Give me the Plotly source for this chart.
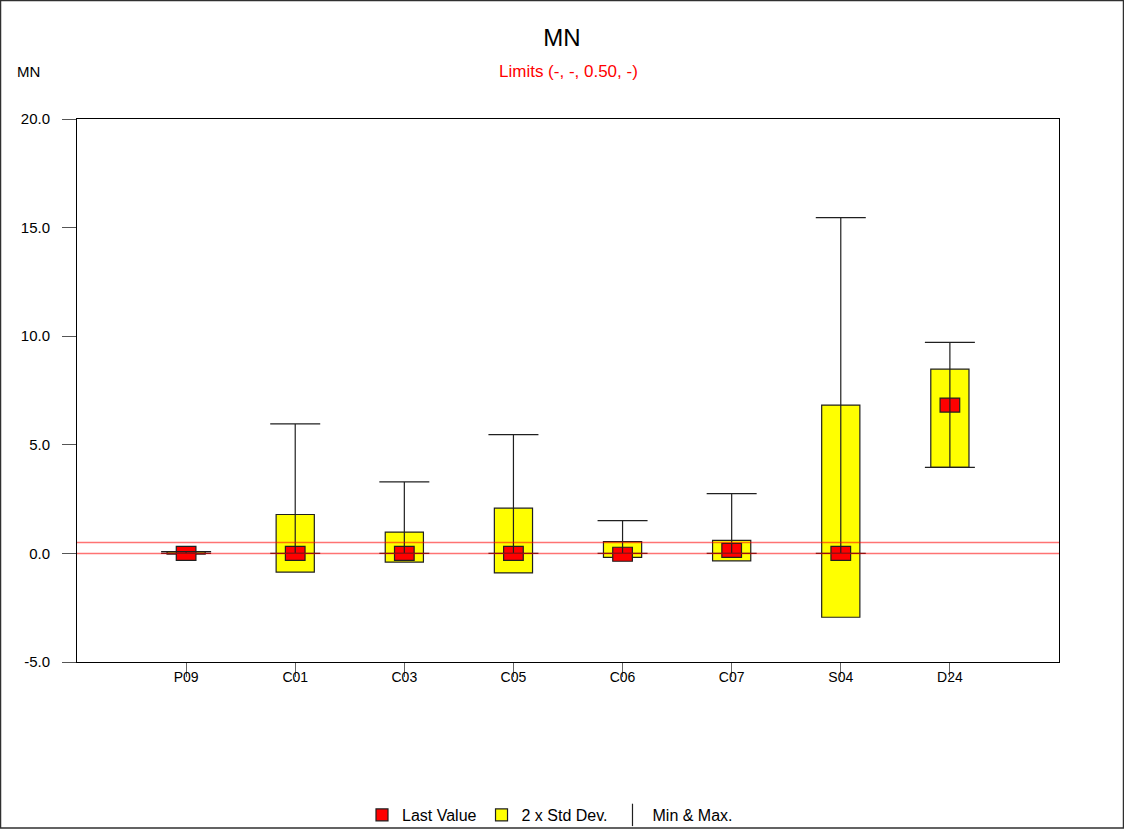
import plotly.graph_objects as go

FONT = "Liberation Sans, Arial, sans-serif"

labels = ["P09", "C01", "C03", "C05", "C06", "C07", "S04", "D24"]
last_value = [0.0, 0.0, 0.0, 0.0, -0.04, 0.14, 0.0, 6.83]
std_low = [-0.03, -0.86, -0.40, -0.90, -0.18, -0.34, -2.94, 3.96]
std_high = [0.08, 1.79, 0.98, 2.08, 0.54, 0.60, 6.83, 8.48]
min_val = [0.0, 0.0, 0.0, 0.0, 0.0, 0.0, 0.0, 3.96]
max_val = [0.08, 5.96, 3.29, 5.47, 1.51, 2.75, 15.46, 9.72]
limits = [0.0, 0.50]
y_ticks = [-5, 0, 5, 10, 15, 20]
y_ticktext = ["-5.0", "0.0", "5.0", "10.0", "15.0", "20.0"]

x = list(range(1, len(labels) + 1))

# plot area is 982 x 543 px for 9 x-units and 25 y-units
px_per_y = 543 / 25
marker_h = 14 / px_per_y

fig = go.Figure()

# min & max whiskers, drawn first so the boxes hide the stem
mid = [(lo + hi) / 2 for lo, hi in zip(min_val, max_val)]
half = [(hi - lo) / 2 for lo, hi in zip(min_val, max_val)]
fig.add_trace(
    go.Scatter(
        x=x,
        y=mid,
        mode="markers",
        marker=dict(size=1, color="rgba(0,0,0,0)"),
        error_y=dict(
            type="data",
            symmetric=False,
            array=half,
            arrayminus=half,
            color="#202020",
            thickness=1.2,
            width=25,
        ),
        showlegend=False,
        hoverinfo="skip",
    )
)

fig.add_trace(
    go.Bar(
        x=x,
        base=std_low,
        y=[hi - lo for lo, hi in zip(std_low, std_high)],
        width=0.35,
        marker=dict(color="#ffff00", line=dict(color="#202020", width=1.2)),
        name="2 x Std Dev.",
        legendrank=2,
    )
)

# limit lines
for lim in limits:
    fig.add_hline(y=lim, line=dict(color="rgba(255,0,0,0.55)", width=1.5))

fig.add_trace(
    go.Bar(
        x=x,
        base=[v - marker_h / 2 for v in last_value],
        y=[marker_h] * len(x),
        width=0.18,
        marker=dict(color="#ff0000", line=dict(color="#202020", width=1.2)),
        name="Last Value",
        legendrank=1,
    )
)

# legend-only entry for the whiskers
fig.add_trace(
    go.Scatter(
        x=[None],
        y=[None],
        mode="markers",
        marker=dict(symbol="line-ns", size=18, line=dict(color="#202020", width=1.2)),
        name="Min & Max.",
        legendrank=3,
    )
)

fig.update_layout(
    width=1124,
    height=829,
    margin=dict(l=77, r=65, t=119, b=167, autoexpand=False),
    paper_bgcolor="white",
    plot_bgcolor="white",
    barmode="overlay",
    font=dict(family=FONT, color="black", size=14),
    title=dict(
        text="MN",
        x=0.5,
        xanchor="center",
        y=1 - 38 / 829,
        yanchor="middle",
        font=dict(size=24, family=FONT),
    ),
    legend=dict(
        orientation="h",
        x=(550 - 77) / 982,
        xanchor="center",
        y=-153 / 543,
        yanchor="middle",
        font=dict(size=16, family=FONT),
        itemwidth=30,
        traceorder="normal",
        bgcolor="rgba(0,0,0,0)",
    ),
    showlegend=True,
)

fig.update_xaxes(
    range=[0, 9],
    tickvals=x,
    ticktext=labels,
    ticks="outside",
    ticklen=14,
    tickcolor="#666666",
    ticklabelstandoff=-12,
    showgrid=False,
    zeroline=False,
    showline=True,
    linecolor="black",
    linewidth=1,
    mirror=True,
    tickfont=dict(size=14),
)
fig.update_yaxes(
    range=[-5, 20],
    tickvals=y_ticks,
    ticktext=y_ticktext,
    ticks="outside",
    ticklen=14,
    tickcolor="#555555",
    ticklabelstandoff=9,
    showgrid=False,
    zeroline=False,
    showline=True,
    linecolor="black",
    linewidth=1,
    mirror=True,
    tickfont=dict(size=15),
)

fig.add_annotation(
    text="Limits (-, -, 0.50, -)",
    xref="paper",
    yref="paper",
    x=0.5,
    y=1 + (119 - 72) / 543,
    xanchor="center",
    yanchor="middle",
    showarrow=False,
    font=dict(size=17, color="#ff0000", family=FONT),
)
fig.add_annotation(
    text="MN",
    xref="paper",
    yref="paper",
    x=-49 / 982,
    y=1 + (119 - 72) / 543,
    xanchor="center",
    yanchor="middle",
    showarrow=False,
    font=dict(size=15, family=FONT),
)

# outer frame around the whole picture
fig.add_shape(
    type="rect",
    xref="paper",
    yref="paper",
    x0=-76.5 / 982,
    x1=1 + 64.5 / 982,
    y0=-166 / 543,
    y1=1 + 118.5 / 543,
    line=dict(color="#303030", width=1.5),
    fillcolor="rgba(0,0,0,0)",
)

fig.write_html(
    "out.html",
    config={"displayModeBar": False},
    post_script="document.body.style.margin='0';",
)
